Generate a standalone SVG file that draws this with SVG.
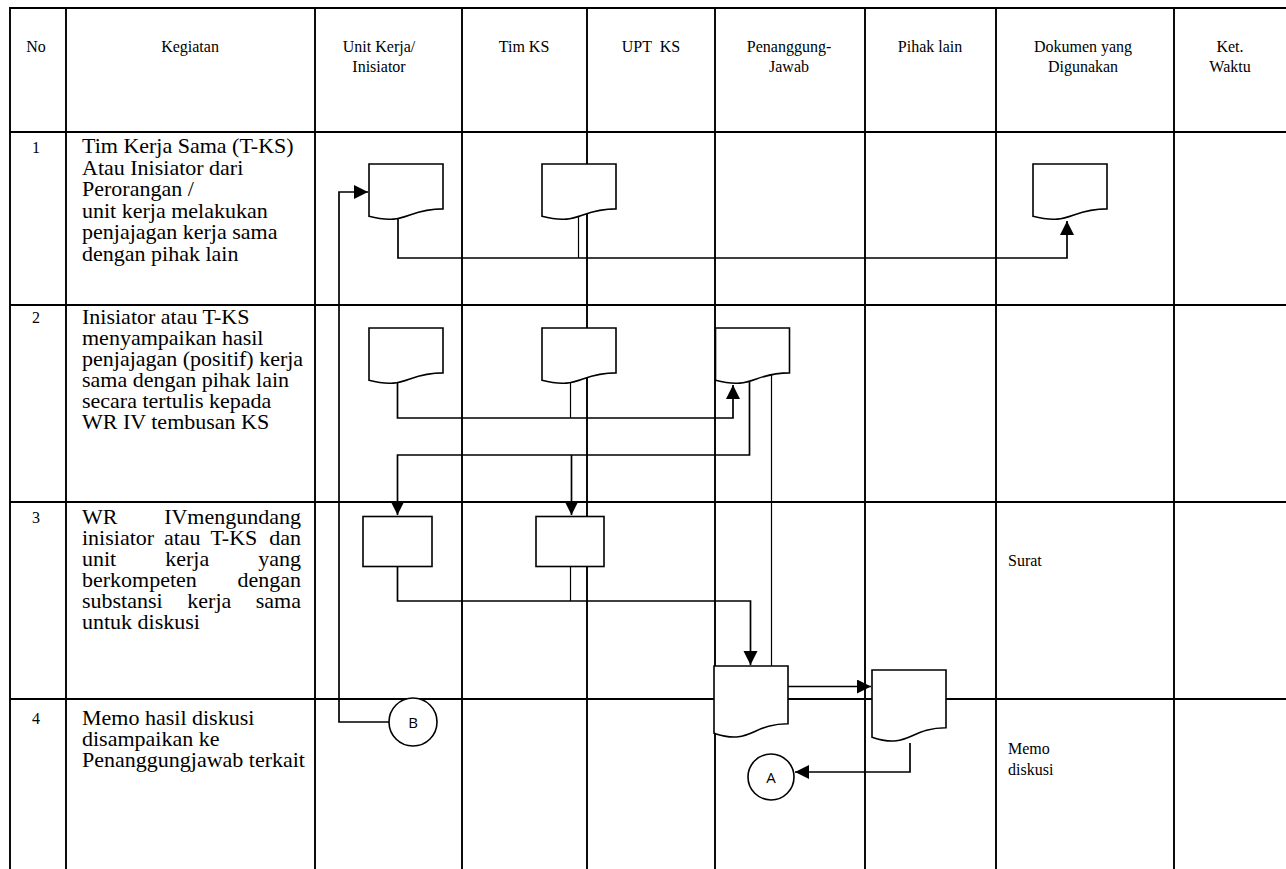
<svg xmlns="http://www.w3.org/2000/svg" width="1286" height="869" viewBox="0 0 1286 869">
<defs>
<style>
.t{font-family:"Liberation Serif","Times New Roman",serif;font-size:22px;fill:#000}
.h{font-family:"Liberation Serif","Times New Roman",serif;font-size:16px;fill:#000;text-anchor:middle}
.s{font-family:"Liberation Serif","Times New Roman",serif;font-size:16px;fill:#000}
.g{stroke:#000;stroke-width:2.2;fill:none}
.v{stroke:#000;stroke-width:1.9;fill:none}
.shape{fill:#fff;stroke:#000;stroke-width:1.6}
.ln{fill:none;stroke:#000;stroke-width:1.7}
.thin{fill:none;stroke:#000;stroke-width:1.2}
.lab{font-family:"Open Sans","Liberation Sans",sans-serif;font-size:15px;text-anchor:middle;fill:#000}
</style>
<marker id="ah" markerUnits="userSpaceOnUse" markerWidth="15" markerHeight="15" refX="14" refY="7" orient="auto">
<path d="M0,0 L14,7 L0,14 z" fill="#000"/>
</marker>
<path id="doc" d="M0,0 H74 V44.9 C37,44.9 37,62 0,52.3 Z"/>
<path id="doc2" d="M0,0 H74 V57.7 C37,57.7 37,79.7 0,67.2 Z"/>
</defs>
<rect width="1286" height="869" fill="#fff"/>

<g id="table">
<path class="g" d="M10,8 H1286 M10,132 H1286 M10,305 H1286 M10,502 H1286 M10,699 H1286"/>
<path class="v" d="M10,7 V869 M66,8 V869 M315,8 V869 M462,8 V869 M587,8 V869 M715,8 V869 M865,8 V869 M996,8 V869 M1174,8 V869"/>
</g>

<g id="header">
<text class="h" x="36" y="52">No</text>
<text class="h" x="190" y="52">Kegiatan</text>
<text class="h" x="379" y="52">Unit Kerja/</text>
<text class="h" x="379" y="72">Inisiator</text>
<text class="h" x="524" y="52">Tim KS</text>
<text class="h" x="651" y="52" xml:space="preserve">UPT  KS</text>
<text class="h" x="789" y="52">Penanggung-</text>
<text class="h" x="789" y="72">Jawab</text>
<text class="h" x="930" y="52">Pihak lain</text>
<text class="h" x="1083" y="52">Dokumen yang</text>
<text class="h" x="1083" y="72">Digunakan</text>
<text class="h" x="1230" y="52">Ket.</text>
<text class="h" x="1230" y="72">Waktu</text>
</g>

<g id="row1-text">
<text class="h" x="36" y="153">1</text>
<text class="t" x="82" y="153">Tim Kerja Sama (T-KS)</text>
<text class="t" x="82" y="174.5">Atau Inisiator dari</text>
<text class="t" x="82" y="196">Perorangan /</text>
<text class="t" x="82" y="217.5">unit kerja melakukan</text>
<text class="t" x="82" y="239">penjajagan kerja sama</text>
<text class="t" x="82" y="260.5">dengan pihak lain</text>
</g>

<g id="row2-text">
<text class="h" x="36" y="323">2</text>
<text class="t" x="82" y="324">Inisiator atau T-KS</text>
<text class="t" x="82" y="345">menyampaikan hasil</text>
<text class="t" x="82" y="366">penjajagan (positif) kerja</text>
<text class="t" x="82" y="387">sama dengan pihak lain</text>
<text class="t" x="82" y="408">secara tertulis kepada</text>
<text class="t" x="82" y="429">WR IV tembusan KS</text>
</g>

<g id="row3-text">
<text class="h" x="36" y="523">3</text>
<text class="t" y="524"><tspan x="82">WR</tspan><tspan x="301" text-anchor="end">IVmengundang</tspan></text>
<text class="t" y="545"><tspan x="82">inisiator</tspan><tspan x="163.9">atau</tspan><tspan x="210.4">T-KS</tspan><tspan x="301" text-anchor="end">dan</tspan></text>
<text class="t" y="566"><tspan x="82">unit</tspan><tspan x="165.2">kerja</tspan><tspan x="301" text-anchor="end">yang</tspan></text>
<text class="t" y="587"><tspan x="82">berkompeten</tspan><tspan x="301" text-anchor="end">dengan</tspan></text>
<text class="t" y="608"><tspan x="82">substansi</tspan><tspan x="187.3">kerja</tspan><tspan x="301" text-anchor="end">sama</tspan></text>
<text class="t" x="82" y="629">untuk diskusi</text>
<text class="s" x="1008" y="566">Surat</text>
</g>

<g id="row4-text">
<text class="h" x="36" y="724">4</text>
<text class="t" x="82" y="725">Memo hasil diskusi</text>
<text class="t" x="82" y="746">disampaikan ke</text>
<text class="t" x="82" y="767">Penanggungjawab terkait</text>
<text class="s" x="1008" y="754">Memo</text>
<text class="s" x="1008" y="775">diskusi</text>
</g>

<g id="connectors">
<path class="ln" d="M390,722 H339 V192 H368" marker-end="url(#ah)"/>
<path class="ln" d="M398,219 V258 H1067 V221" marker-end="url(#ah)"/>
<path class="thin" d="M578.5,215 V258"/>
<path class="ln" d="M397.5,383 V418 H733 V385" marker-end="url(#ah)"/>
<path class="thin" d="M570.5,382 V418"/>
<path class="ln" d="M749.5,382 V455 H397.5 V515" marker-end="url(#ah)"/>
<path class="ln" d="M571.5,455 V515" marker-end="url(#ah)"/>
<path class="thin" d="M771.5,374 V666"/>
<path class="ln" d="M397.5,566 V601 H750.5 V665" marker-end="url(#ah)"/>
<path class="thin" d="M570.5,566 V601"/>
<path class="ln" d="M788,686.5 H871" marker-end="url(#ah)"/>
<path class="ln" d="M910,743 V772 H795" marker-end="url(#ah)"/>
</g>

<g id="doc-unit-1"><use href="#doc" class="shape" x="369" y="164"/></g>
<g id="doc-tim-1"><use href="#doc" class="shape" x="542" y="164"/></g>
<g id="doc-dokumen-1"><use href="#doc" class="shape" x="1033" y="164"/></g>
<g id="doc-unit-2"><use href="#doc" class="shape" x="369" y="328"/></g>
<g id="doc-tim-2"><use href="#doc" class="shape" x="542" y="328"/></g>
<g id="doc-pj-2"><use href="#doc" class="shape" x="715.5" y="328"/></g>
<g id="rect-unit-3"><rect class="shape" x="363" y="516.5" width="69" height="50"/></g>
<g id="rect-tim-3"><rect class="shape" x="536" y="516.5" width="68" height="50"/></g>
<g id="doc-pj-4"><use href="#doc2" class="shape" x="714" y="666"/></g>
<g id="doc-pihak-4"><use href="#doc2" class="shape" x="872" y="670"/></g>
<g id="conn-B"><circle class="shape" cx="413" cy="722" r="24"/><text class="lab" x="413" y="728">B</text></g>
<g id="conn-A"><circle class="shape" cx="771" cy="777" r="23"/><text class="lab" x="771" y="783">A</text></g>
</svg>
